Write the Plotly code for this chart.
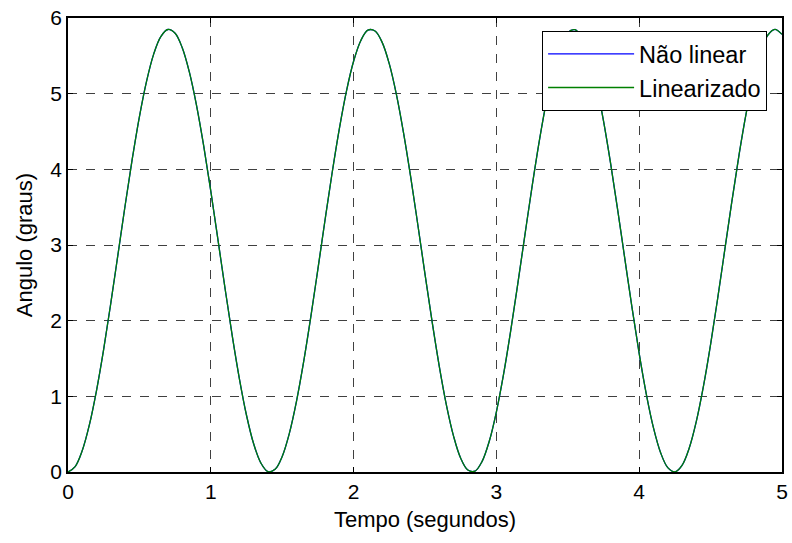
import plotly.graph_objects as go

# time samples (s)
tempo = [round(0.05 * i, 2) for i in range(101)]

# angle (graus), every 0.05 s
angulo_nao_linear = [
    0.000, 0.072, 0.284, 0.625, 1.080, 1.624, 2.234, 2.876, 3.522, 4.137,
    4.694, 5.163, 5.523, 5.755, 5.848, 5.798, 5.607, 5.284, 4.845, 4.312,
    3.711, 3.071, 2.424, 1.802, 1.235, 0.750, 0.373, 0.121, 0.006, 0.035,
    0.206, 0.510, 0.933, 1.454, 2.046, 2.682, 3.330, 3.958, 4.535, 5.034,
    5.428, 5.700, 5.840, 5.828, 5.678, 5.393, 4.987, 4.479, 3.896, 3.264,
    2.616, 1.983, 1.397, 0.885, 0.474, 0.182, 0.026, 0.012, 0.141, 0.406,
    0.796, 1.289, 1.864, 2.490, 3.138, 3.775, 4.370, 4.895, 5.323, 5.633,
    5.810, 5.845, 5.737, 5.491, 5.119, 4.640, 4.075, 3.455, 2.809, 2.168,
    1.564, 1.027, 0.584, 0.255, 0.058, 0.001, 0.088, 0.314, 0.668, 1.134,
    1.687, 2.300, 2.945, 3.589, 4.200, 4.748, 5.207, 5.554, 5.772, 5.850,
    5.784,
]
angulo_linearizado = [
    0.000, 0.072, 0.284, 0.625, 1.080, 1.624, 2.234, 2.876, 3.522, 4.137,
    4.694, 5.163, 5.523, 5.755, 5.848, 5.798, 5.607, 5.284, 4.845, 4.312,
    3.711, 3.071, 2.424, 1.802, 1.235, 0.750, 0.373, 0.121, 0.006, 0.035,
    0.206, 0.510, 0.933, 1.454, 2.046, 2.682, 3.330, 3.958, 4.535, 5.034,
    5.428, 5.700, 5.840, 5.828, 5.678, 5.393, 4.987, 4.479, 3.896, 3.264,
    2.616, 1.983, 1.397, 0.885, 0.474, 0.182, 0.026, 0.012, 0.141, 0.406,
    0.796, 1.289, 1.864, 2.490, 3.138, 3.775, 4.370, 4.895, 5.323, 5.633,
    5.810, 5.845, 5.737, 5.491, 5.119, 4.640, 4.075, 3.455, 2.809, 2.168,
    1.564, 1.027, 0.584, 0.255, 0.058, 0.001, 0.088, 0.314, 0.668, 1.134,
    1.687, 2.300, 2.945, 3.589, 4.200, 4.748, 5.207, 5.554, 5.772, 5.850,
    5.784,
]

x_ticks = [0, 1, 2, 3, 4, 5]
y_ticks = [0, 1, 2, 3, 4, 5, 6]

fig = go.Figure()
fig.add_trace(go.Scatter(x=tempo, y=angulo_nao_linear, mode="lines", name="Não linear",
                         line=dict(color="#0000ff", width=1.3, shape="spline")))
fig.add_trace(go.Scatter(x=tempo, y=angulo_linearizado, mode="lines", name="Linearizado",
                         line=dict(color="#008000", width=1.3, shape="spline")))

font_family = "Liberation Sans, Arial, sans-serif"
axis_common = dict(
    showline=True, linecolor="black", linewidth=1.5, mirror="allticks",
    ticks="inside", ticklen=5, tickcolor="black",
    showgrid=True, gridcolor="#404040", griddash="dash", gridwidth=1,
    zeroline=False, automargin=False,
    tickfont=dict(size=21, color="black", family=font_family),
)
fig.update_xaxes(range=[0, 5], tickvals=x_ticks, ticktext=[str(v) for v in x_ticks],
                 title=dict(text="Tempo (segundos)", font=dict(size=22, color="black", family=font_family), standoff=10),
                 **axis_common)
fig.update_yaxes(range=[0, 6], tickvals=y_ticks, ticktext=[str(v) for v in y_ticks],
                 title=dict(text="Angulo (graus)", font=dict(size=22, color="black", family=font_family), standoff=12),
                 **axis_common)

fig.update_layout(
    width=792, height=543,
    margin=dict(l=68, r=10, t=18, b=71),
    paper_bgcolor="white", plot_bgcolor="white",
    font=dict(family=font_family, color="black"),
    showlegend=True,
    legend=dict(x=0.664, y=0.971, xanchor="left", yanchor="top",
                bgcolor="white", bordercolor="black", borderwidth=1,
                font=dict(size=23.5, color="black", family=font_family),
                itemwidth=86, tracegroupgap=0),
)

fig.write_html("out.html")
